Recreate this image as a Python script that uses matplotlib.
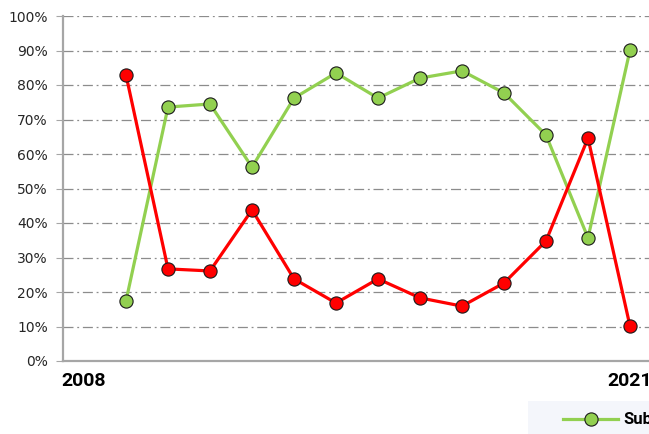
import matplotlib.pyplot as plt
from matplotlib.patches import Rectangle
from matplotlib.ticker import FuncFormatter

years = list(range(2008, 2022))
green_vals = [None, 17.4, 73.6, 74.5, 56.2, 76.2, 83.5, 76.2, 82.0, 84.1, 77.7, 65.5, 35.7, 90.1]
red_vals = [None, 82.9, 26.7, 26.1, 43.8, 23.8, 16.8, 23.8, 18.3, 15.9, 22.6, 34.8, 64.6, 10.1]
shown_years = {2008: "2008", 2021: "2021"}
green_label = "Subsidized"
red_label = "Other"

W, H = 649, 434
fig = plt.figure(figsize=(W / 100, H / 100), dpi=100)
# axes runs off the right edge like the original crop
ax = fig.add_axes([63 / W, (H - 361) / H, (651 - 63) / W, (361 - 16) / H])

idx = list(range(len(years)))
gx = [i for i, v in zip(idx, green_vals) if v is not None]
gy = [v for v in green_vals if v is not None]
rx = [i for i, v in zip(idx, red_vals) if v is not None]
ry = [v for v in red_vals if v is not None]

ax.plot(gx, gy, color="#92D050", lw=2.3, marker="o", ms=9.5,
        mfc="#92D050", mec="#1a1a1a", mew=0.8, label=green_label, zorder=3)
ax.plot(rx, ry, color="#FF0000", lw=2.3, marker="o", ms=9.5,
        mfc="#FF0000", mec="#1a1a1a", mew=0.8, label=red_label, zorder=4)

ax.set_xlim(-0.5, len(years) - 0.5)
ax.set_ylim(0, 100)
ax.set_yticks(range(0, 101, 10))
ax.yaxis.set_major_formatter(FuncFormatter(lambda v, p: f"{int(v)}%"))
ax.set_xticks(idx)
ax.set_xticklabels([shown_years.get(y, "") for y in years])

ax.grid(axis="y", color="#8c8c8c", lw=0.9, linestyle=(0, (8, 3, 1.5, 3)))
ax.set_axisbelow(True)

for s in ["top", "right"]:
    ax.spines[s].set_visible(False)
for s in ["left", "bottom"]:
    ax.spines[s].set_color("#a6a6a6")
    ax.spines[s].set_linewidth(1.6)

ax.tick_params(axis="y", length=5, color="#a6a6a6", labelsize=10,
               labelcolor="#262626", pad=6)
ax.tick_params(axis="x", length=0, pad=8)
for t in ax.get_xticklabels():
    t.set_fontfamily(["Liberation Sans Narrow", "Roboto", "DejaVu Sans"])
    t.set_fontweight("bold")
    t.set_fontsize(14)
    t.set_color("black")

# legend background panel (cut by the right edge, like the reference)
fig.patches.append(Rectangle((528 / W, 0), 0.3, (H - 401) / H,
                             transform=fig.transFigure, facecolor="#F4F6FB",
                             edgecolor="none", zorder=0))

leg = fig.legend(handles=[ax.lines[0], ax.lines[1]], loc="center left",
                 bbox_to_anchor=(563 / W, 1 - 420 / H), ncol=2,
                 frameon=False, handlelength=3.3, handletextpad=0.3,
                 borderpad=0, borderaxespad=0, columnspacing=2,
                 prop={"family": ["Liberation Sans Narrow", "Roboto", "DejaVu Sans"],
                       "weight": "bold", "size": 12})

fig.savefig("out.png", dpi=100)
